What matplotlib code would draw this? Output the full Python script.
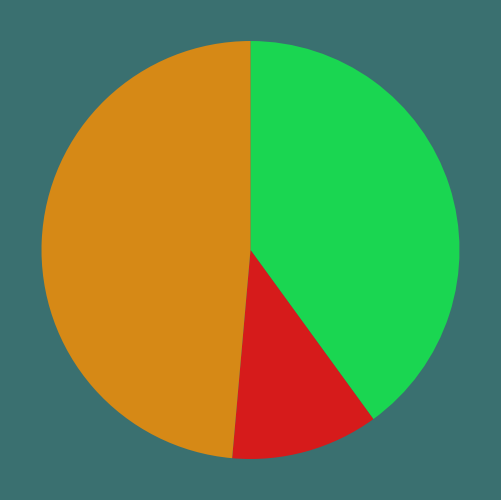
import matplotlib
matplotlib.use('Agg')
import matplotlib.pyplot as plt

# Slice data (clockwise from 12 o'clock)
labels = ['Green', 'Red', 'Orange']
values = [40.0, 11.4, 48.6]
colors = ['#1ad651', '#d61b1b', '#d68916']
bg = '#3a7070'

fig = plt.figure(figsize=(5.01, 5.00), dpi=100, facecolor=bg)
ax = fig.add_axes([0, 0, 1, 1])
ax.set_facecolor(bg)

ax.pie(values, colors=colors, startangle=90, counterclock=False,
       wedgeprops={'linewidth': 0, 'antialiased': True})

# pie radius ~209 px of 250 px half-width
lim = 250 / 209
ax.set_xlim(-lim, lim)
ax.set_ylim(-lim, lim)
ax.set_aspect('equal')
ax.axis('off')

fig.savefig('out.png', dpi=100, facecolor=bg)
